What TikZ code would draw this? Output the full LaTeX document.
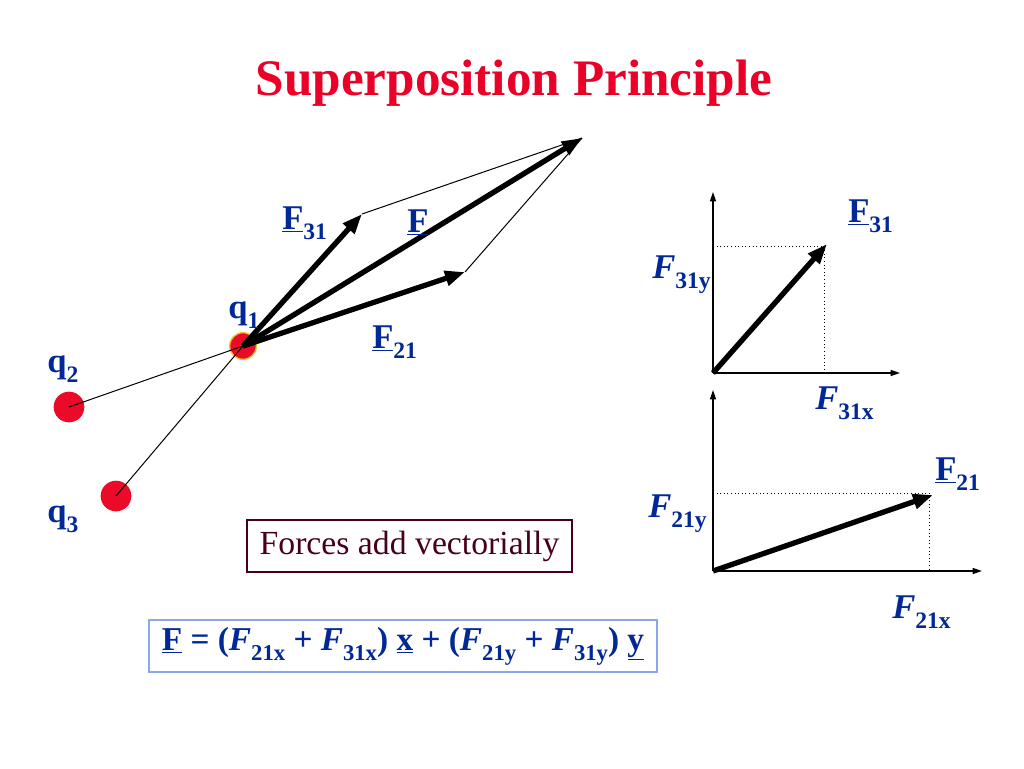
\documentclass[tikz,border=0pt]{standalone}
\usepackage{fontspec}
\setmainfont{Liberation Serif}
\usepackage{graphicx}
\usetikzlibrary{arrows.meta}
\definecolor{titlered}{RGB}{235,0,40}
\definecolor{lblue}{RGB}{0,40,150}
\definecolor{boxtext}{RGB}{70,0,30}
\definecolor{boxblue}{RGB}{140,165,235}
\definecolor{qred}{RGB}{235,10,40}
\definecolor{qrim}{RGB}{250,190,40}
\newcommand\mysub[1]{\raisebox{-0.3em}{\scalebox{0.68}{#1}}}
\begin{document}
\begin{tikzpicture}[x=0.75pt,y=-0.75pt,
  lbl/.style={text=lblue, font=\fontsize{26}{30}\selectfont\bfseries, inner sep=0pt, anchor=base west},
  charge/.style={circle, fill=qred, inner sep=0pt},
  bigvec/.style={line width=4pt, -{Triangle[length=15pt,width=11pt]}},
  thinline/.style={line width=0.75pt},
  axis/.style={line width=1pt, -{Triangle[length=7pt,width=4.5pt]}},
  guide/.style={dotted, line width=0.7pt}]
\path[fill=white, use as bounding box] (0,0) rectangle (1024,768);
% title
\node[text=titlered, font=\fontsize{38.4}{44}\selectfont\bfseries, anchor=base, inner sep=0pt] (title) at (514,95) {Superposition Principle};
% charges
\node[charge, minimum size=23pt] (q2) at (69,407) {};
\node[charge, minimum size=23pt] (q3) at (116,496) {};
\node[charge, minimum size=20pt, draw=qrim, line width=1pt] (q1) at (243,346) {};
\draw[thinline] (q2.center) -- (q1.center);
\draw[thinline] (q3.center) -- (q1.center);
% vectors
\coordinate (t31) at (362,214);
\coordinate (tF) at (582,138);
\coordinate (t21) at (465,272);
\draw[thinline] (t31) -- (tF);
\draw[thinline] (t21) -- (tF);
\draw[bigvec] (q1.center) -- (t31);
\draw[bigvec] (q1.center) -- (tF);
\draw[bigvec] (q1.center) -- (t21);
% labels left
\node[lbl] (lF31) at (282,229) {\underline{F}\mysub{31}};
\node[lbl] (lF) at (407,232) {\underline{F}};
\node[lbl] (lF21) at (372,348) {\underline{F}\mysub{21}};
\node[lbl] (lq1) at (228,318) {q\mysub{1}};
\node[lbl] (lq2) at (47,372) {q\mysub{2}};
\node[lbl] (lq3) at (47,522) {q\mysub{3}};
% top component plot
\coordinate (o1) at (713,373);
\coordinate (y1) at (713,192);
\coordinate (x1) at (900,373);
\coordinate (v1) at (827,244);
\coordinate (d1y) at (713,246);
\coordinate (d1c) at (824,246);
\coordinate (d1x) at (824,373);
\draw[guide] (d1y) -- (d1c) -- (d1x);
\draw[axis] (o1) -- (y1);
\draw[axis] (o1) -- (x1);
\draw[bigvec] (o1) -- (v1);
\node[lbl] (pF31) at (848,222) {\underline{F}\mysub{31}};
\node[lbl] (pF31y) at (652,278) {\textit{F}\mysub{31y}};
\node[lbl] (pF31x) at (815,409) {\textit{F}\mysub{31x}};
% bottom component plot
\coordinate (o2) at (713,571);
\coordinate (y2) at (713,390);
\coordinate (x2) at (982,571);
\coordinate (v2) at (933,495);
\coordinate (d2y) at (713,493);
\coordinate (d2c) at (929,493);
\coordinate (d2x) at (929,571);
\draw[guide] (d2y) -- (d2c) -- (d2x);
\draw[axis] (o2) -- (y2);
\draw[axis] (o2) -- (x2);
\draw[bigvec] (o2) -- (v2);
\node[lbl] (pF21) at (935,480) {\underline{F}\mysub{21}};
\node[lbl] (pF21y) at (648,517) {\textit{F}\mysub{21y}};
\node[lbl] (pF21x) at (892,618) {\textit{F}\mysub{21x}};
% boxes
\node[draw=boxtext, line width=0.8pt, text=boxtext, font=\fontsize{25.3}{30}\selectfont, minimum width=243.75pt, minimum height=39pt, inner sep=0pt] (forces) at (409.5,546) {Forces add vectorially};
\node[draw=boxblue, line width=0.8pt, text=lblue, font=\fontsize{25}{30}\selectfont\bfseries, minimum width=381pt, minimum height=39pt, inner sep=0pt] (formula) at (403,646) {\underline{F} = (\textit{F}\mysub{21x} + \textit{F}\mysub{31x}) \underline{x} + (\textit{F}\mysub{21y} + \textit{F}\mysub{31y}) \underline{y}};
\end{tikzpicture}
\end{document}
